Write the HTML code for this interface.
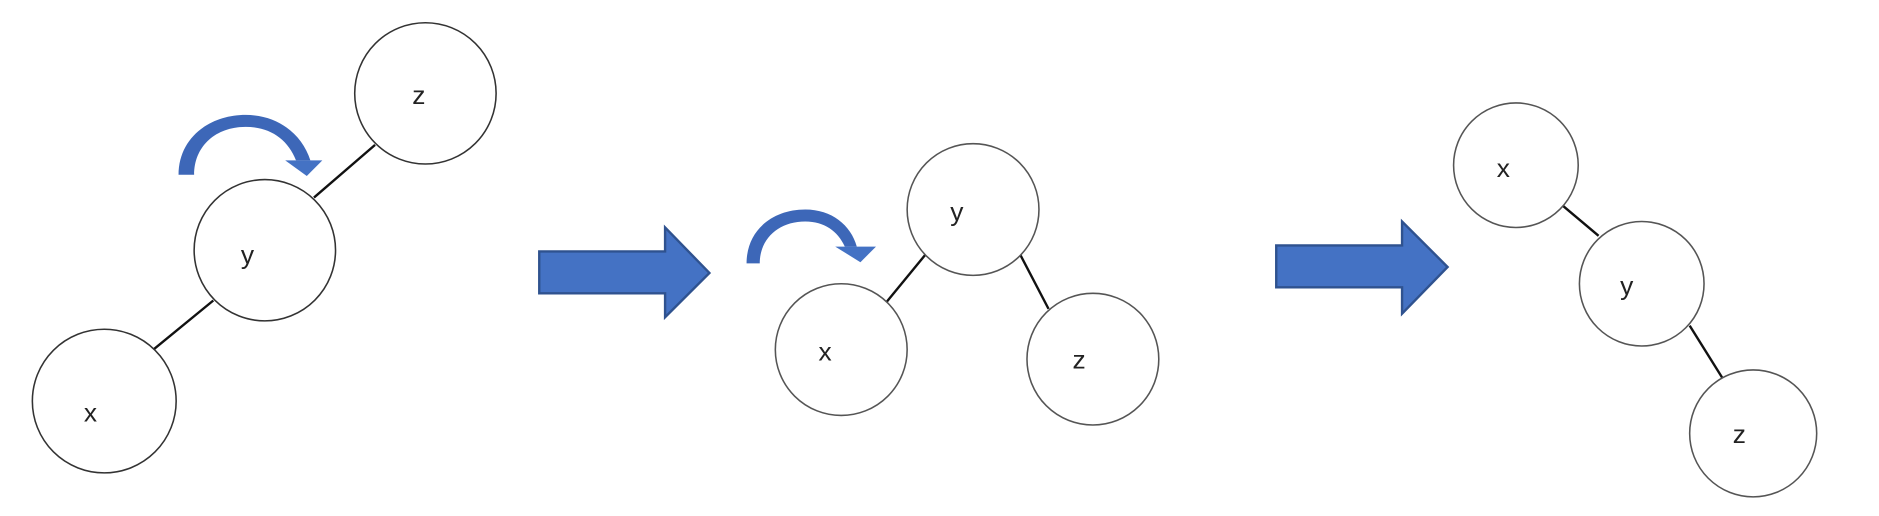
<!DOCTYPE html>
<html><head><meta charset="utf-8"><style>
html,body{margin:0;padding:0;background:#fff;}
svg{display:block;}
text{font-family:"Liberation Sans",sans-serif;font-size:22px;fill:#222;}
</style></head><body>
<svg width="1879" height="516" viewBox="0 0 1568 431" preserveAspectRatio="none">
<g>
<line x1="262" y1="165" x2="313" y2="121" stroke="#111" stroke-width="2"/>
<line x1="178" y1="251" x2="128" y2="292" stroke="#111" stroke-width="2"/>
<circle cx="355" cy="78" r="59" fill="#fff" stroke="#333" stroke-width="1.3"/>
<text x="344" y="87">z</text>
<circle cx="221" cy="209" r="59" fill="#fff" stroke="#333" stroke-width="1.3"/>
<text x="201" y="220">y</text>
<circle cx="87" cy="335" r="60" fill="#fff" stroke="#333" stroke-width="1.3"/>
<text x="70" y="352">x</text>
<g>
<path d="M149,146 C149,115 175,96 205,96 C232,96 252,112 259,134 L247,134 C240,116 225,106 205,106 C180,106 162,122 162,146 Z" fill="#3d67b8"/>
<polygon points="238,134 269,134 256,147" fill="#4472c4"/>
</g>
</g>
<polygon points="450,210 555,210 555,190 592,228 555,265 555,245 450,245" fill="#4472c4" stroke="#2f528f" stroke-width="2"/>
<g>
<line x1="772" y1="213" x2="740" y2="252" stroke="#111" stroke-width="2"/>
<line x1="851" y1="212" x2="875" y2="258" stroke="#111" stroke-width="2"/>
<circle cx="812" cy="175" r="55" fill="#fff" stroke="#555" stroke-width="1.3"/>
<text x="793" y="184">y</text>
<circle cx="702" cy="292" r="55" fill="#fff" stroke="#555" stroke-width="1.3"/>
<text x="683" y="301">x</text>
<circle cx="912" cy="300" r="55" fill="#fff" stroke="#555" stroke-width="1.3"/>
<text x="895" y="308">z</text>
<g>
<path d="M623,220 C623,192 645,175 672,175 C694,175 710,188 715,206 L705,206 C699,193 688,185 672,185 C650,185 634,199 634,220 Z" fill="#3d67b8"/>
<polygon points="697,206 731,206 718,219" fill="#4472c4"/>
</g>
</g>
<polygon points="1065,205 1170,205 1170,185 1208,223 1170,262 1170,240 1065,240" fill="#4472c4" stroke="#2f528f" stroke-width="2"/>
<g>
<line x1="1302" y1="170" x2="1334" y2="197" stroke="#111" stroke-width="2"/>
<line x1="1410" y1="272" x2="1440" y2="320" stroke="#111" stroke-width="2"/>
<circle cx="1265" cy="138" r="52" fill="#fff" stroke="#555" stroke-width="1.3"/>
<text x="1249" y="148">x</text>
<circle cx="1370" cy="237" r="52" fill="#fff" stroke="#555" stroke-width="1.3"/>
<text x="1352" y="246">y</text>
<circle cx="1463" cy="362" r="53" fill="#fff" stroke="#555" stroke-width="1.3"/>
<text x="1446" y="370">z</text>
</g>
</svg>
</body></html>
